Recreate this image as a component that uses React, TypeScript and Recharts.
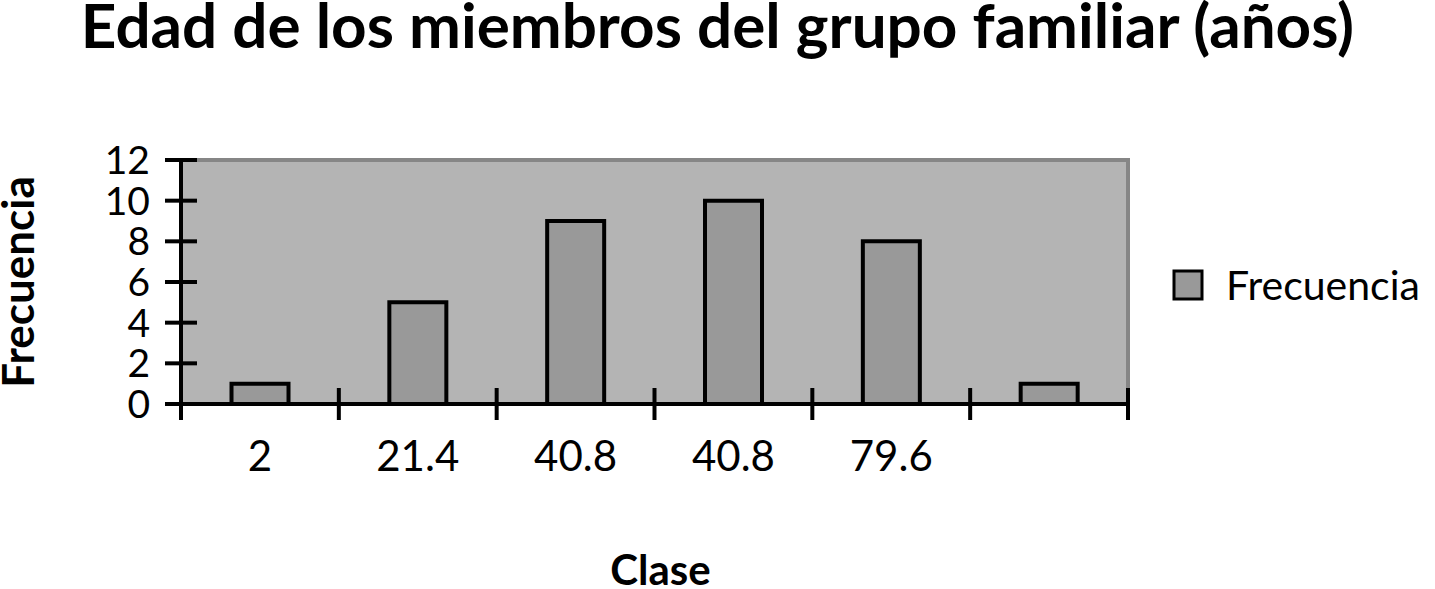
import { Bar, BarChart, Label, Legend, ReferenceArea, XAxis, YAxis } from "recharts";

const classes = ["2", "21.4", "40.8", "40.8", "79.6", ""];
const frequencies = [1, 5, 9, 10, 8, 1];
const yTicks = [0, 2, 4, 6, 8, 10, 12];

const data = classes.map((clase, i) => ({ clase, Frecuencia: frequencies[i] }));

const WIDTH = 1435;
const HEIGHT = 589;
const margin = { top: 160, right: 307, bottom: 105, left: 11 };
const Y_AXIS_W = 170;
const X_AXIS_H = 80;
// width of one category band, used to put the x ticks on the band edges
const band = (WIDTH - margin.left - margin.right - Y_AXIS_W) / classes.length;

const FONT = "Lato, 'Open Sans', sans-serif";

function YTick({ x, y, payload }: any) {
  return (
    <g>
      <line x1={x - 16} x2={x + 16} y1={y} y2={y} stroke="#000" strokeWidth={4} />
      <text x={x - 31} y={y} dy="0.36em" textAnchor="end" fontSize={39} fontFamily={FONT} fill="#000">
        {payload.value}
      </text>
    </g>
  );
}

function XTick({ x, y, payload, index }: any) {
  const last = index === classes.length - 1;
  return (
    <g>
      <line x1={x - band / 2} x2={x - band / 2} y1={y - 16} y2={y + 16} stroke="#000" strokeWidth={4} />
      {last && <line x1={x + band / 2} x2={x + band / 2} y1={y - 16} y2={y + 16} stroke="#000" strokeWidth={4} />}
      <text x={x} y={y + 52} dy="0.36em" textAnchor="middle" fontSize={42} fontFamily={FONT} fill="#000">
        {payload.value}
      </text>
    </g>
  );
}

function LegendContent({ payload }: any) {
  return (
    <div>
      {(payload ?? []).map((item: any) => (
        <div key={item.value} style={{ display: "flex", alignItems: "center", gap: 22 }}>
          <svg width={32} height={32}>
            <rect x={2} y={2} width={28} height={28} fill="#999999" stroke="#000" strokeWidth={3} />
          </svg>
          <span style={{ fontSize: 41, lineHeight: "41px", fontFamily: FONT, color: "#000" }}>{item.value}</span>
        </div>
      ))}
    </div>
  );
}

export default function App() {
  return (
    <div
      style={{
        position: "absolute",
        left: 0,
        top: 0,
        width: WIDTH,
        height: HEIGHT,
        background: "#fff",
      }}
    >
      <div
        style={{
          position: "absolute",
          left: 0,
          top: 0,
          width: WIDTH,
          textAlign: "center",
          fontFamily: FONT,
          fontWeight: 700,
          fontSize: 62,
          lineHeight: "48px",
          color: "#000",
        }}
      >
        Edad de los miembros del grupo familiar (años)
      </div>
      <BarChart width={WIDTH} height={HEIGHT} data={data} margin={margin} barCategoryGap="32%">
        <ReferenceArea
          y1={0}
          y2={12}
          fill="#b4b4b4"
          fillOpacity={1}
          stroke="#868686"
          strokeWidth={4}
          ifOverflow="visible"
        />
        <Bar dataKey="Frecuencia" fill="#999999" stroke="#000" strokeWidth={4} isAnimationActive={false} />
        <XAxis
          dataKey="clase"
          height={X_AXIS_H}
          interval={0}
          tickSize={0}
          tickMargin={0}
          tickLine={false}
          axisLine={{ stroke: "#000", strokeWidth: 4 }}
          tick={<XTick />}
        >
          <Label
            value="Clase"
            position="bottom"
            offset={71}
            dx={6}
            fontSize={42}
            fontWeight={700}
            fontFamily={FONT}
            fill="#000"
          />
        </XAxis>
        <YAxis
          width={Y_AXIS_W}
          domain={[0, 12]}
          ticks={yTicks}
          interval={0}
          tickSize={0}
          tickMargin={0}
          tickLine={false}
          axisLine={{ stroke: "#000", strokeWidth: 4 }}
          tick={<YTick />}
        >
          <Label
            value="Frecuencia"
            position="insideLeft"
            angle={-90}
            offset={7}
            textAnchor="middle"
            fontSize={44}
            fontWeight={700}
            fontFamily={FONT}
            fill="#000"
          />
        </YAxis>
        <Legend
          layout="horizontal"
          verticalAlign="middle"
          align="center"
          content={<LegendContent />}
          wrapperStyle={{ left: 1172, top: 264, width: 263 }}
        />
      </BarChart>
    </div>
  );
}
